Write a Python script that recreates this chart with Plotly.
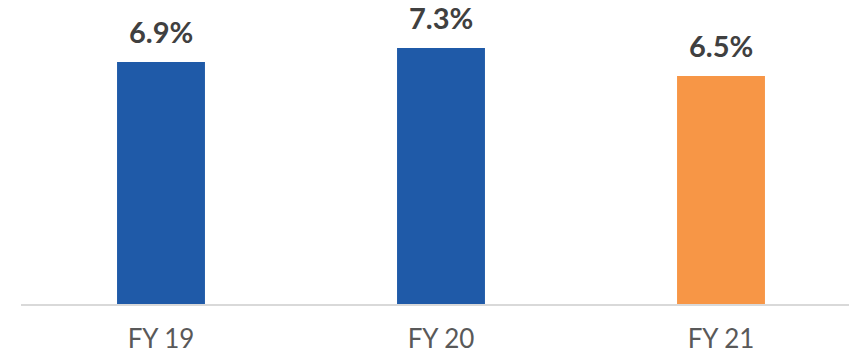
import plotly.graph_objects as go

categories = ["FY 19", "FY 20", "FY 21"]
values = [6.9, 7.3, 6.5]
labels = ["6.9%", "7.3%", "6.5%"]
colors = ["#1F5AA8", "#1F5AA8", "#F79646"]

x_pos = list(range(len(categories)))

fig = go.Figure(
    go.Bar(
        x=x_pos,
        y=values,
        width=0.314,
        marker=dict(color=colors, line=dict(width=0)),
        hoverinfo="skip",
    )
)

# value labels above each bar
for xi, v, t in zip(x_pos, values, labels):
    fig.add_annotation(
        x=xi,
        y=v,
        text=t,
        showarrow=False,
        yanchor="bottom",
        yshift=11,
        font=dict(family="Lato, 'Open Sans', sans-serif", size=29, color="#404040", weight="bold"),
    )

fig.update_layout(
    width=849,
    height=354,
    margin=dict(l=21, r=0, t=10, b=50),
    paper_bgcolor="white",
    plot_bgcolor="white",
    showlegend=False,
    xaxis=dict(
        tickmode="array",
        tickvals=x_pos,
        ticktext=categories,
        range=[-0.5, -0.5 + 828 / 280],
        showgrid=False,
        zeroline=False,
        showline=True,
        linecolor="#D9D9D9",
        linewidth=2,
        ticks="",
        ticklabelstandoff=11,
        tickfont=dict(family="Lato, 'Open Sans', sans-serif", size=26, color="#595959"),
    ),
    yaxis=dict(
        range=[0, 294 / 35.07],
        visible=False,
        showgrid=False,
        zeroline=False,
    ),
)

fig.write_html("out.html")
